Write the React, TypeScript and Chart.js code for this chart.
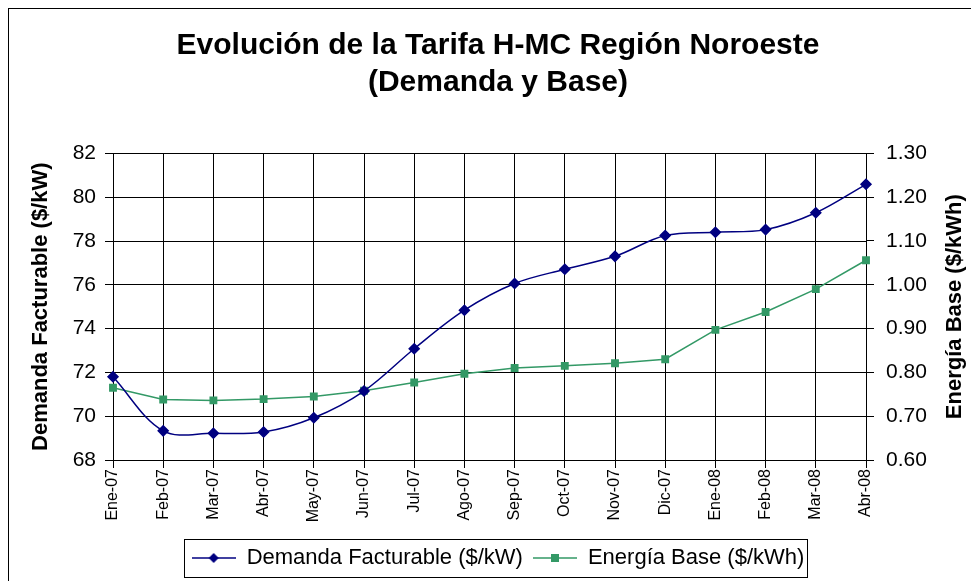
import React, { useEffect, useRef } from "react";
import { Chart, registerables } from "chart.js";
Chart.register(...registerables);

const categories = [
  "Ene-07", "Feb-07", "Mar-07", "Abr-07", "May-07", "Jun-07", "Jul-07", "Ago-07",
  "Sep-07", "Oct-07", "Nov-07", "Dic-07", "Ene-08", "Feb-08", "Mar-08", "Abr-08",
];
const demandaFacturable = [
  71.8, 69.33, 69.22, 69.28, 69.93, 71.15, 73.08, 74.84,
  76.06, 76.71, 77.3, 78.25, 78.4, 78.52, 79.29, 80.59,
];
const energiaBase = [
  0.765, 0.738, 0.736, 0.739, 0.745, 0.758, 0.777, 0.797,
  0.81, 0.815, 0.821, 0.83, 0.897, 0.938, 0.99, 1.056,
];
const titleLines = ["Evolución de la Tarifa H-MC Región Noroeste", "(Demanda y Base)"];
const seriesNames = ["Demanda Facturable ($/kW)", "Energía Base ($/kWh)"];
const leftAxisTitle = "Demanda Facturable ($/kW)";
const rightAxisTitle = "Energía Base ($/kWh)";
const leftRange = [68, 82, 2];
const rightRange = [0.6, 1.3, 0.1];

const FONT = '"Liberation Sans", Arial, sans-serif';
const NAVY = "#000080";
const GREEN = "#339966";

function makeMarker(color: string, style: "diamond" | "square") {
  const c = document.createElement("canvas");
  c.width = 44;
  c.height = 14;
  const g = c.getContext("2d")!;
  g.strokeStyle = color;
  g.lineWidth = 1.5;
  g.beginPath();
  g.moveTo(0, 7);
  g.lineTo(44, 7);
  g.stroke();
  g.fillStyle = color;
  if (style === "diamond") {
    g.beginPath();
    g.moveTo(22, 2);
    g.lineTo(27, 7);
    g.lineTo(22, 12);
    g.lineTo(17, 7);
    g.closePath();
    g.fill();
  } else {
    g.fillRect(18, 3, 8, 8);
  }
  return c;
}

const legendBorder = {
  id: "legendBorder",
  afterDraw(chart: any) {
    const lg = chart.legend;
    if (!lg || !lg.legendHitBoxes || !lg.legendHitBoxes.length) return;
    const hb = lg.legendHitBoxes;
    let x0 = Infinity, x1 = -Infinity, y0 = Infinity, y1 = -Infinity;
    hb.forEach((b: any) => {
      x0 = Math.min(x0, b.left);
      x1 = Math.max(x1, b.left + b.width);
      y0 = Math.min(y0, b.top);
      y1 = Math.max(y1, b.top + b.height);
    });
    const ctx = chart.ctx;
    ctx.save();
    ctx.strokeStyle = "#000";
    ctx.lineWidth = 1;
    ctx.strokeRect(Math.round(x0 - 8) + 0.5, Math.round(y0 - 8) + 0.5, Math.round(x1 - x0 + 10), Math.round(y1 - y0 + 16));
    ctx.restore();
  },
};

const rightTitle = {
  id: "rightTitle",
  afterDraw(chart: any) {
    const s = chart.scales.y1;
    const ctx = chart.ctx;
    ctx.save();
    ctx.fillStyle = "#000";
    ctx.font = `bold 22px ${FONT}`;
    ctx.textAlign = "center";
    ctx.textBaseline = "middle";
    ctx.translate(s.right - 17, (chart.chartArea.top + chart.chartArea.bottom) / 2);
    ctx.rotate(-Math.PI / 2);
    ctx.fillText(rightAxisTitle, 0, 0);
    ctx.restore();
  },
};

export default function App() {
  const ref = useRef<HTMLCanvasElement>(null);
  useEffect(() => {
    document.body.style.overflow = "hidden";
    const markers = [makeMarker(NAVY, "diamond"), makeMarker(GREEN, "square")];
    const chart = new Chart(ref.current!, {
      type: "line",
      data: {
        labels: categories,
        datasets: [
          {
            label: seriesNames[0],
            data: demandaFacturable,
            yAxisID: "y",
            borderColor: NAVY,
            backgroundColor: NAVY,
            borderWidth: 1.5,
            pointStyle: "rectRot",
            pointRadius: 5,
            pointBackgroundColor: NAVY,
            pointBorderColor: NAVY,
            tension: 0.35,
          },
          {
            label: seriesNames[1],
            data: energiaBase,
            yAxisID: "y1",
            borderColor: GREEN,
            backgroundColor: GREEN,
            borderWidth: 1.5,
            pointStyle: "rect",
            pointRadius: 4.5,
            pointBackgroundColor: GREEN,
            pointBorderColor: GREEN,
            tension: 0,
          },
        ],
      },
      options: {
        responsive: false,
        animation: false,
        devicePixelRatio: 1,
        layout: { padding: { left: 15, right: 20, top: 0, bottom: 70 } },
        plugins: {
          title: {
            display: true,
            text: titleLines,
            color: "#000",
            font: { family: FONT, size: 30, weight: "bold", lineHeight: 1.24 },
            padding: { top: 18, bottom: 52 },
          },
          legend: {
            position: "bottom",
            labels: {
              color: "#000",
              font: { family: FONT, size: 22 },
              usePointStyle: true,
              pointStyleWidth: 44,
              padding: 10,
              generateLabels: (c: any) =>
                (Chart.defaults.plugins.legend.labels as any)
                  .generateLabels(c)
                  .map((l: any, i: number) => ({ ...l, pointStyle: markers[i] })),
            },
          },
          tooltip: { enabled: false },
        },
        scales: {
          x: {
            offset: false,
            grid: { color: "#000", lineWidth: 1, tickLength: 8, offset: false },
            border: { color: "#000", width: 1 },
            ticks: {
              color: "#000",
              font: { family: FONT, size: 16 },
              minRotation: 90,
              maxRotation: 90,
              padding: 1,
              autoSkip: false,
            },
            afterFit: (s: any) => { s.height = 77; },
          },
          y: {
            position: "left",
            min: leftRange[0],
            max: leftRange[1],
            grid: { color: "#000", lineWidth: 1, tickLength: 8 },
            border: { color: "#000", width: 1 },
            ticks: {
              stepSize: leftRange[2],
              color: "#000",
              font: { family: FONT, size: 21 },
              padding: 9,
            },
            title: {
              display: true,
              text: leftAxisTitle,
              color: "#000",
              font: { family: FONT, size: 22, weight: "bold" },
            },
            afterFit: (s: any) => { s.width = 89; },
          },
          y1: {
            position: "right",
            min: rightRange[0],
            max: rightRange[1],
            grid: { drawOnChartArea: false, color: "#000", tickLength: 8 },
            border: { color: "#000", width: 1 },
            ticks: {
              stepSize: rightRange[2],
              color: "#000",
              font: { family: FONT, size: 21 },
              padding: 12,
              callback: (v: any) => Number(v).toFixed(2),
            },
            title: { display: false },
            afterFit: (s: any) => { s.width = 106; },
          },
        },
      },
      plugins: [legendBorder, rightTitle],
    });
    return () => chart.destroy();
  }, []);
  return (
    <div style={{ width: 985, height: 642, border: "1px solid #000", boxSizing: "border-box" }}>
      <canvas ref={ref} width={983} height={640} style={{ display: "block" }} />
    </div>
  );
}
